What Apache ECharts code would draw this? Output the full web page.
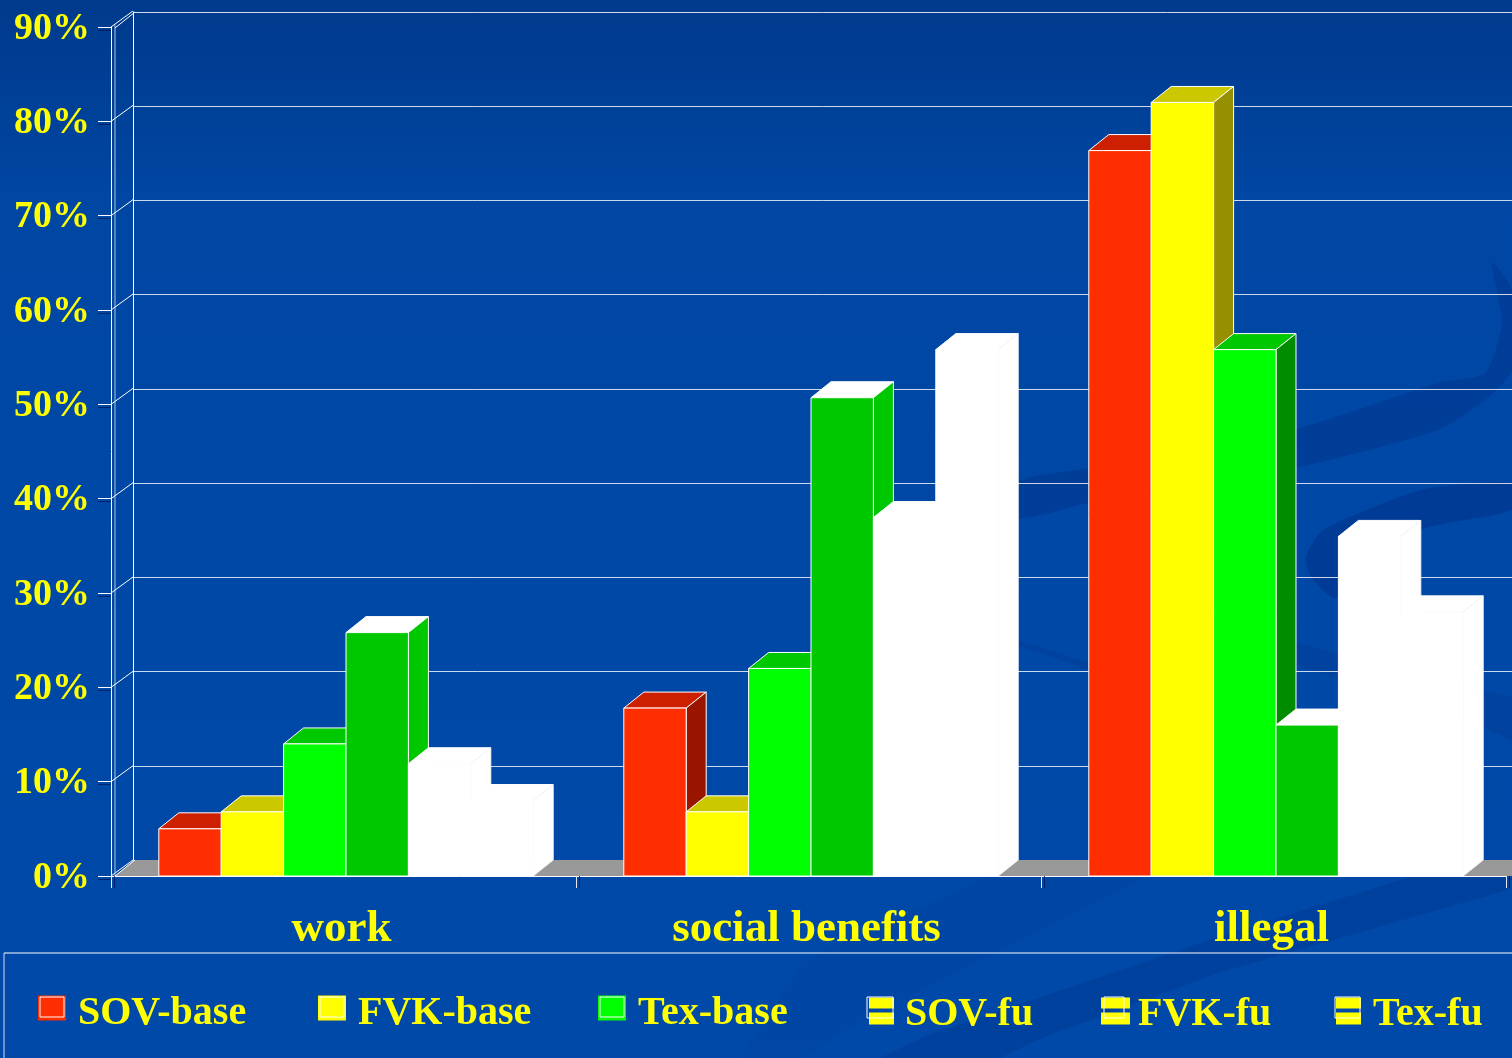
<!DOCTYPE html>
<html>
<head>
<meta charset="utf-8">
<script src="https://cdn.jsdelivr.net/npm/echarts@6/dist/echarts.min.js"></script>
<style>
  html, body { margin: 0; padding: 0; background: #0049a8; }
  #chart { width: 1512px; height: 1058px; }
</style>
</head>
<body>
<div id="chart"></div>
<script>
const categories = ['work', 'social benefits', 'illegal']
const yTicks = [0, 10, 20, 30, 40, 50, 60, 70, 80, 90]

const sovBase = [5, 17.8, 76.9]
const fvkBase = [6.8, 6.8, 82]
const texBase = [14, 22, 55.8]
const sovFu = [25.8, 50.7, 16]
const fvkFu = [11.9, 38, 36]
const texFu = [8, 55.8, 28]

// depth of the fake 3d, in px
const DX = 20
const DY = 16
const BAR_W = 62.4
const FONT = '"Liberation Serif", serif'
const YELLOW = '#ffff00'

function bar3d(idx, front, top, side, sideEdge) {
  return (params, api) => {
    const c = api.coord([api.value(0), api.value(1)])
    const base = api.coord([api.value(0), 0])
    const x0 = c[0] + (idx - 3) * BAR_W + 2.5
    const x1 = x0 + BAR_W
    const y = c[1]
    const b = base[1]
    const stroke = { stroke: '#fff', lineWidth: 1, lineJoin: 'round' }
    return {
      type: 'group',
      children: [
        { type: 'polygon', shape: { points: [[x0, y], [x0 + DX, y - DY], [x1 + DX, y - DY], [x1, y]] }, style: { fill: top, ...stroke } },
        { type: 'polygon', shape: { points: [[x1, y], [x1 + DX, y - DY], [x1 + DX, b - DY], [x1, b]] }, style: { fill: side, ...stroke, stroke: sideEdge } },
        { type: 'rect', shape: { x: x0, y: y, width: BAR_W, height: b - y }, style: { fill: front, ...stroke } }
      ]
    }
  }
}

function barSeries(name, values, idx, front, top, side, sideEdge) {
  return {
    name: name,
    type: 'custom',
    coordinateSystem: 'cartesian2d',
    xAxisIndex: 0,
    yAxisIndex: 0,
    z: 5,
    clip: false,
    silent: true,
    itemStyle: { color: front },
    encode: { x: 0, y: 1 },
    data: values.map((v, i) => [i, v]),
    renderItem: bar3d(idx, front, top, side, sideEdge || '#fff')
  }
}

// floor plus the slanted bits joining front axis and back wall
function renderFrame(params, api) {
  const v = api.value(1)
  const p = api.coord([0, v])
  const left = p[0] - api.size([1, 0])[0] / 2
  const white = { stroke: '#fff', lineWidth: 1 }
  const children = [{
    type: 'line',
    shape: { x1: left, y1: p[1], x2: left + DX + 2, y2: p[1] - DY },
    style: white
  }]
  if (v === 0) {
    children.unshift({
      type: 'polygon',
      shape: { points: [[left + 4, p[1]], [left + DX + 3, p[1] - DY], [left + 1440, p[1] - DY], [left + 1420, p[1]]] },
      style: { fill: '#999999' }
    })
    const topY = api.coord([0, 90])[1]
    // second, greyer wall edge just inside the axis
    children.push({
      type: 'line',
      shape: { x1: left + 4, y1: topY - 2, x2: left + 4, y2: p[1] },
      style: { stroke: '#b9c2d0', lineWidth: 1 }
    })
  }
  if (v === 0 || v === 90) {
    children.push({
      type: 'line',
      shape: { x1: left + 4, y1: p[1] + (v === 0 ? 0 : 1), x2: left + DX + 4, y2: p[1] - DY + (v === 0 ? 0 : 1) },
      style: white
    })
  }
  return { type: 'group', children: children }
}

const legendNames = ['SOV-base', 'FVK-base', 'Tex-base', 'SOV-fu', 'FVK-fu', 'Tex-fu']
const legendLeft = [38, 318, 598, 869, 1101, 1336]
const legendIconW = [28, 28, 28, 25, 29, 25]
const legendTextPad = [7, 7, 7, 6, 3, 7]

// icons carry a blank tail so the label sits lower than the swatch centre
function legendOf(name, i) {
  const isFu = i >= 3
  const w = legendIconW[i]
  const h = isFu ? 35 : 37
  const body = isFu ? `M0 0H${w}V11H0ZM0 15H${w}V27H0Z` : `M0 0H${w}V25H0Z`
  return {
    data: [{
      name: name,
      icon: `path://${body}M0 ${h}H0.01V${h}.01H0Z`,
      itemStyle: isFu ? { color: YELLOW } : undefined
    }],
    left: legendLeft[i],
    top: isFu ? 995 : 994,
    padding: 0,
    itemWidth: w,
    itemHeight: h,
    textStyle: { color: YELLOW, fontFamily: FONT, fontWeight: 'bold', fontSize: 40, padding: [0, 0, 0, legendTextPad[i]] },
    selectedMode: false
  }
}

function swoosh(points, fill, smooth) {
  return { type: 'polygon', z: -1, silent: true, shape: { points: points, smooth: smooth }, style: { fill: fill } }
}

function outline(x, y, w, h) {
  return { type: 'rect', z: 10, silent: true, shape: { x: x, y: y, width: w, height: h }, style: { fill: 'transparent', stroke: '#fff', lineWidth: 1 } }
}

const chart = echarts.init(document.getElementById('chart'), null, { renderer: 'canvas' })

chart.setOption({
  animation: false,
  backgroundColor: {
    type: 'linear', x: 0, y: 0, x2: 0, y2: 1,
    colorStops: [
      { offset: 0, color: '#003a8c' },
      { offset: 0.2, color: '#0047a4' },
      { offset: 1, color: '#0049a8' }
    ]
  },
  grid: [
    { left: 111, top: 27, width: 1395, height: 849 },
    { left: 133, top: 12, width: 1395, height: 848 }
  ],
  xAxis: [
    {
      type: 'category',
      gridIndex: 0,
      data: categories,
      axisLine: { lineStyle: { color: '#fff', width: 1 } },
      axisTick: { show: true, length: 12, lineStyle: { color: '#dfe8f5', shadowColor: 'rgba(0,20,80,0.8)', shadowOffsetX: 3 } },
      axisLabel: { color: YELLOW, fontFamily: FONT, fontWeight: 'bold', fontSize: 45, margin: 31, padding: [0, 4, 0, 0] }
    },
    {
      type: 'category',
      gridIndex: 1,
      data: categories,
      axisLine: { show: false },
      axisTick: { show: false },
      axisLabel: { show: false }
    }
  ],
  yAxis: [
    {
      type: 'value',
      gridIndex: 0,
      min: 0,
      max: 90,
      interval: 10,
      axisLine: { show: true, lineStyle: { color: '#fff', width: 1 } },
      axisTick: { show: true, length: 13, lineStyle: { color: '#fff', shadowColor: 'rgba(0,20,80,0.7)', shadowOffsetY: 3 } },
      axisLabel: { color: YELLOW, fontFamily: FONT, fontWeight: 'bold', fontSize: 38, margin: 21, verticalAlign: 'top', lineHeight: 4, formatter: '{value}%' },
      splitLine: { show: false }
    },
    {
      type: 'value',
      gridIndex: 1,
      min: 0,
      max: 90,
      interval: 10,
      axisLine: { show: true, lineStyle: { color: '#fff', width: 1 } },
      axisTick: { show: false },
      axisLabel: { show: false },
      splitLine: { show: true, lineStyle: { color: 'rgba(255,255,255,0.8)', width: 1 } }
    }
  ],
  legend: legendNames.map(legendOf),
  graphic: [
    // background swooshes
    swoosh([[1017, 482], [1089, 468], [1299, 428], [1438, 383], [1485, 373], [1502, 323], [1492, 263], [1512, 290], [1512, 370], [1489, 397], [1438, 430], [1299, 467], [1089, 503], [1017, 518]], 'rgba(0,52,140,0.5)', 0.2),
    swoosh([[1512, 483], [1421, 490], [1323, 530], [1306, 557], [1311, 577], [1336, 598], [1421, 530], [1512, 510]], 'rgba(0,52,140,0.6)', 0.2),
    swoosh([[1017, 640], [1089, 663], [1297, 643], [1482, 690], [1512, 697], [1512, 740], [1482, 727], [1297, 665], [1089, 670], [1017, 645]], 'rgba(0,52,140,0.3)', 0),
    swoosh([[1410, 877], [1218, 937], [923, 1037], [880, 1058], [1000, 1058], [1037, 1040], [1218, 973], [1508, 890], [1512, 877]], 'rgba(0,52,140,0.35)', 0),
    swoosh([[990, 877], [804, 960], [740, 1058], [800, 1058], [900, 1000], [1145, 877]], 'rgba(0,52,140,0.15)', 0),
    // legend frame
    { type: 'line', z: 1, silent: true, shape: { x1: 4, y1: 953, x2: 1512, y2: 953 }, style: { stroke: '#fff', lineWidth: 1 } },
    { type: 'line', z: 1, silent: true, shape: { x1: 4, y1: 953, x2: 4, y2: 1058 }, style: { stroke: '#cfdcf0', lineWidth: 1 } },
    // inner outline of the legend swatches
    outline(40, 997, 24, 20),
    outline(320, 997, 24, 20),
    outline(600, 997, 24, 20),
    outline(867, 997, 26, 21),
    outline(1104, 997, 20, 21),
    outline(1335, 997, 25, 21)
  ],
  series: [
    {
      name: 'frame',
      type: 'custom',
      coordinateSystem: 'cartesian2d',
      xAxisIndex: 0,
      yAxisIndex: 0,
      z: 1,
      silent: true,
      clip: false,
      data: yTicks.map(v => [0, v]),
      encode: { x: 0, y: 1 },
      renderItem: renderFrame
    },
    barSeries('SOV-base', sovBase, 0, '#ff2e00', '#cc2000', '#991500'),
    barSeries('FVK-base', fvkBase, 1, '#ffff00', '#ccc800', '#968f00'),
    barSeries('Tex-base', texBase, 2, '#00ff00', '#00c800', '#008c00'),
    barSeries('SOV-fu', sovFu, 3, '#00c800', '#ffffff', '#00c800'),
    barSeries('FVK-fu', fvkFu, 4, '#ffffff', '#ffffff', '#ffffff', '#f3f5f9'),
    barSeries('Tex-fu', texFu, 5, '#ffffff', '#ffffff', '#ffffff', '#f3f5f9')
  ]
})
</script>
</body>
</html>
